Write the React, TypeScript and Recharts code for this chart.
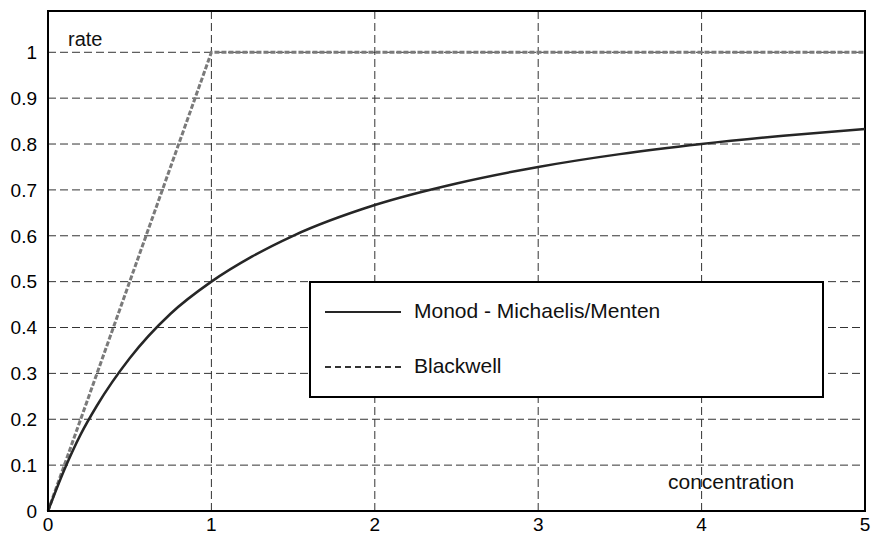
import {
    Line,
    LineChart,
    CartesianGrid,
    ReferenceArea,
    XAxis,
    YAxis,
} from 'recharts';

// Monod - Michaelis/Menten curve
const MONOD_X = [0, 0.1, 0.2, 0.3, 0.5, 0.75, 1, 1.25, 1.5, 2, 2.5, 3, 3.5, 4, 4.5, 5];
const MONOD_Y = [0, 0.09, 0.167, 0.23, 0.333, 0.43, 0.5, 0.555, 0.6, 0.667, 0.714, 0.75, 0.778, 0.8, 0.818, 0.833];

// Blackwell: linear up to saturation, then flat
const BLACKWELL_X = [0, 1, 5];
const BLACKWELL_Y = [0, 1, 1];

const X_TICKS = [0, 1, 2, 3, 4, 5];
const Y_TICKS = [0, 0.1, 0.2, 0.3, 0.4, 0.5, 0.6, 0.7, 0.8, 0.9, 1];

const monodData = MONOD_X.map((x, i) => ({ x, y: MONOD_Y[i] }));
const blackwellData = BLACKWELL_X.map((x, i) => ({ x, y: BLACKWELL_Y[i] }));

const FONT = '"Liberation Sans", Arial, sans-serif';

export default function App() {
    return (
        <div style={{ position: 'absolute', left: 0, top: 0, width: 871, height: 536, background: '#fff', fontFamily: FONT }}>
            <LineChart width={871} height={536} margin={{ top: 11, right: 6, left: 0, bottom: 0 }}>
                <CartesianGrid stroke="#333" strokeDasharray="8 4" />
                <XAxis
                    type="number"
                    dataKey="x"
                    domain={[0, 5]}
                    ticks={X_TICKS}
                    height={25}
                    tickSize={0}
                    tickMargin={7}
                    axisLine={{ stroke: '#000', strokeWidth: 2 }}
                    tick={{ fill: '#000', fontSize: 19, fontFamily: FONT }}
                />
                <XAxis
                    xAxisId="top"
                    type="number"
                    orientation="top"
                    domain={[0, 5]}
                    ticks={X_TICKS}
                    height={0}
                    mirror
                    tick={false}
                    tickSize={5}
                    tickLine={{ stroke: '#000' }}
                    axisLine={false}
                />
                <YAxis
                    type="number"
                    domain={[0, 1.09]}
                    ticks={Y_TICKS}
                    allowDataOverflow
                    width={48}
                    tickSize={0}
                    tickMargin={11}
                    axisLine={{ stroke: '#000', strokeWidth: 2 }}
                    tick={{ fill: '#000', fontSize: 19, fontFamily: FONT }}
                />
                <YAxis
                    yAxisId="right"
                    orientation="right"
                    type="number"
                    domain={[0, 1.09]}
                    ticks={Y_TICKS}
                    allowDataOverflow
                    width={0}
                    mirror
                    tick={false}
                    tickSize={5}
                    tickLine={{ stroke: '#000' }}
                    axisLine={false}
                />
                <ReferenceArea
                    x1={0}
                    x2={5}
                    y1={0}
                    y2={1.09}
                    fill="none"
                    fillOpacity={0}
                    stroke="#000"
                    strokeWidth={2}
                />
                <Line
                    data={blackwellData}
                    dataKey="y"
                    type="linear"
                    stroke="#7a7a7a"
                    strokeWidth={3}
                    strokeDasharray="5 2"
                    dot={false}
                    isAnimationActive={false}
                />
                <Line
                    data={monodData}
                    dataKey="y"
                    type="monotone"
                    stroke="#262626"
                    strokeWidth={2.5}
                    dot={false}
                    isAnimationActive={false}
                />
            </LineChart>

            <div style={{ position: 'absolute', left: 68, top: 28, fontSize: 20, color: '#111' }}>rate</div>
            <div style={{ position: 'absolute', left: 668, top: 470, fontSize: 21, color: '#111' }}>concentration</div>

            <div
                style={{
                    position: 'absolute',
                    left: 309,
                    top: 281,
                    width: 511,
                    height: 113,
                    border: '2px solid #000',
                    background: '#fff',
                }}
            >
                <div style={{ position: 'absolute', left: 14, top: 28, width: 76, borderTop: '2.5px solid #262626' }} />
                <div style={{ position: 'absolute', left: 103, top: 16, fontSize: 21, color: '#111', whiteSpace: 'nowrap' }}>
                    Monod - Michaelis/Menten
                </div>
                <div style={{ position: 'absolute', left: 14, top: 83, width: 76, borderTop: '2px dashed #333' }} />
                <div style={{ position: 'absolute', left: 103, top: 71, fontSize: 21, color: '#111', whiteSpace: 'nowrap' }}>
                    Blackwell
                </div>
            </div>
        </div>
    );
}
